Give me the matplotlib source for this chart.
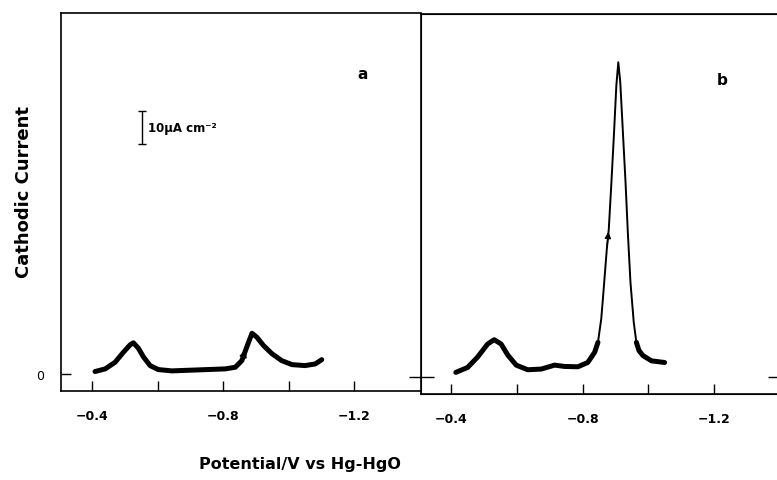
import numpy as np
import matplotlib.pyplot as plt

plt.rcParams['font.family'] = ['DejaVu Sans']

# curve a (potential V, cathodic current uA cm-2)
a_pot = [-0.409, -0.440, -0.470, -0.496, -0.516, -0.526, -0.541, -0.557, -0.577,
         -0.602, -0.643, -0.725, -0.806, -0.837, -0.857, -0.872, -0.888, -0.903,
         -0.923, -0.949, -0.979, -1.010, -1.050, -1.081, -1.101]
a_cur = [0.7, 1.5, 3.5, 6.6, 8.8, 9.4, 7.8, 5.1, 2.5,
         1.3, 0.9, 1.2, 1.5, 2.0, 4.0, 8.1, 12.3, 11.1,
         8.6, 6.1, 4.0, 2.8, 2.5, 3.0, 4.3]

# curve b
b_pot = [-0.414, -0.450, -0.480, -0.511, -0.531, -0.552, -0.572, -0.598, -0.633,
         -0.674, -0.715, -0.745, -0.786, -0.816, -0.837, -0.847, -0.857, -0.862,
         -0.874, -0.880, -0.888, -0.896, -0.903, -0.909, -0.915, -0.923, -0.931,
         -0.938, -0.946, -0.956, -0.964, -0.972, -0.984, -1.010, -1.050]
b_cur = [1.4, 2.9, 6.0, 10.0, 11.3, 10.0, 6.7, 3.6, 2.2,
         2.4, 3.6, 3.2, 3.1, 4.4, 7.5, 10.5, 17.6, 23.6,
         38.8, 44.8, 59.0, 74.1, 88.3, 95.4, 89.3, 74.1, 59.0,
         43.8, 28.7, 16.6, 10.5, 8.0, 6.5, 4.9, 4.4]

a_arrow = 15
b_arrow = 19

xticks = [-0.4, -0.6, -0.8, -1.0, -1.2]
xticklabels = ['\u22120.4', '', '\u22120.8', '', '\u22121.2']

W, H = 777, 481
fig = plt.figure(figsize=(W / 100, H / 100), dpi=100)

def box(l, r, t, b):
    return [l / W, 1 - b / H, (r - l) / W, (b - t) / H]

ax1 = fig.add_axes(box(61, 421, 14, 392))
ax2 = fig.add_axes(box(421, 780, 15, 395))

for ax in (ax1, ax2):
    ax.set_xticks(xticks)
    ax.set_xticklabels(xticklabels, fontsize=9, fontweight='bold')
    ax.tick_params(axis='x', direction='in', length=7, width=1, pad=13)
    for s in ax.spines.values():
        s.set_linewidth(1.2)

ax1.set_xlim(-0.305, -1.404)
ax1.set_ylim(-5.2, 109.4)
ax1.spines['right'].set_visible(False)
ax1.set_yticks([0])
ax1.set_yticklabels(['0'], fontsize=9)
ax1.tick_params(axis='y', direction='in', length=7, width=1, pad=12)

ax1.plot(a_pot, a_cur, color='black', lw=3.6, solid_capstyle='round',
         solid_joinstyle='round')
ax1.annotate('', xy=(a_pot[a_arrow], a_cur[a_arrow]),
             xytext=(a_pot[a_arrow - 1], a_cur[a_arrow - 1]),
             arrowprops=dict(arrowstyle='-|>', color='black', lw=1, mutation_scale=11))

# scale bar
ax1.errorbar([-0.553], [74.7], yerr=[5.0], color='black', capsize=3, lw=1, capthick=1)
ax1.text(-0.571, 74.8, '10\u00b5A cm\u207b\u00b2', fontsize=8.5, fontweight='bold',
         va='center', ha='left')
ax1.text(-1.227, 91.2, 'a', fontsize=11, fontweight='bold', ha='center', va='center')

ax2.set_xlim(-0.308, -1.4015)
ax2.set_ylim(-5.15, 110)
ax2.set_yticks([0])
ax2.set_yticklabels([])
ax2.tick_params(axis='y', direction='inout', length=18, width=1)

bp = np.array(b_pot)
bc = np.array(b_cur)
ax2.plot(bp, bc, color='black', lw=1.4, solid_joinstyle='round')
low = np.where(bc < 12, bc, np.nan)
ax2.plot(bp, low, color='black', lw=3.6, solid_capstyle='round',
         solid_joinstyle='round')
ax2.annotate('', xy=(b_pot[b_arrow], b_cur[b_arrow]),
             xytext=(b_pot[b_arrow - 1], b_cur[b_arrow - 1]),
             arrowprops=dict(arrowstyle='-|>', color='black', lw=1, mutation_scale=9))
ax2.text(-1.224, 90.3, 'b', fontsize=11, fontweight='bold', ha='center', va='center')

ax3 = ax2.twinx()
ax3.set_ylim(ax2.get_ylim())
ax3.set_yticks([0])
ax3.set_yticklabels([])
ax3.tick_params(axis='y', direction='in', length=9, width=1)

fig.text(24 / W, 1 - 192 / H, 'Cathodic Current', rotation=90, fontsize=13,
         fontweight='bold', ha='center', va='center')
fig.text(300 / W, 1 - 465 / H, 'Potential/V vs Hg-HgO', fontsize=11.5,
         fontweight='bold', ha='center', va='center')

fig.savefig('out.png', dpi=100)
